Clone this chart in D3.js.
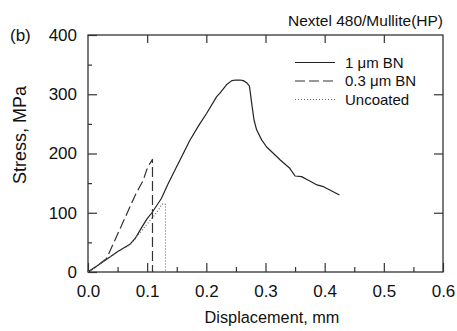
<!DOCTYPE html>
<html><head><meta charset="utf-8">
<script src="https://cdn.jsdelivr.net/npm/d3@7"></script>
<style>
body{margin:0;background:#fff;}
text{font-family:"Liberation Sans",Arial,sans-serif;fill:#111;}
</style></head>
<body><svg id="c" width="457" height="331"></svg>
<script>
const xMajor=[0,0.1,0.2,0.3,0.4,0.5,0.6];
const xMinor=[0.05,0.15,0.25,0.35,0.45,0.55];
const yMajor=[0,100,200,300,400];
const yMinor=[50,150,250,350];
const seriesNames=["1 \u03bcm BN","0.3 \u03bcm BN","Uncoated"];
const bn1=[[0,0],[0.015,10],[0.031,21],[0.051,35],[0.071,47],[0.08,57],[0.09,74],[0.1,90],[0.108,100],[0.124,124],[0.135,148],[0.147,172],[0.16,198],[0.172,222],[0.187,247],[0.2006,268],[0.2175,296],[0.223,302],[0.234,316],[0.243,323],[0.25,324],[0.257,324],[0.2625,323],[0.268,319.5],[0.2727,314],[0.2738,307],[0.2766,285],[0.2806,256.5],[0.285,240],[0.2935,223],[0.302,211],[0.325,189],[0.341,175],[0.35,162],[0.361,161],[0.37,156],[0.378,152],[0.387,147],[0.398,144],[0.425,130]];
const bn03=[[0,0],[0.015,10],[0.0315,23],[0.061,88],[0.08,130],[0.0935,155],[0.099,172],[0.104,182],[0.109,190],[0.109,0]];
const uncoated=[[0,0],[0.015,10],[0.031,21],[0.051,35],[0.07,45],[0.088,66],[0.099,80],[0.11,93],[0.12,106],[0.124,113],[0.128,116],[0.131,114],[0.131,0]];
const titleText="Nextel 480/Mullite(HP)";
const panelLabel="(b)";
const xLabel="Displacement, mm";
const yLabel="Stress, MPa";

const svg=d3.select("#c");
const L=88,T=35,R=443,B=272;
const x=d3.scaleLinear().domain([0,0.6]).range([L,R]);
const y=d3.scaleLinear().domain([0,400]).range([B,T]);
const axCol="#333";

function styleAxis(g){g.select(".domain").remove();g.selectAll("line").attr("stroke",axCol).attr("stroke-width",1.2);}

svg.append("g").attr("transform",`translate(0,${B})`)
 .call(d3.axisBottom(x).tickValues(xMajor).tickSize(-9).tickPadding(13).tickFormat(d3.format(".1f")))
 .call(styleAxis).selectAll("text").attr("font-size",17).attr("fill","#111").style("font-family","Liberation Sans, Arial, sans-serif");
svg.append("g").attr("transform",`translate(0,${B})`)
 .call(d3.axisBottom(x).tickValues(xMinor).tickSize(-5).tickFormat("")).call(styleAxis);
svg.append("g").attr("transform",`translate(0,${T})`)
 .call(d3.axisTop(x).tickValues(xMajor.slice(1,-1)).tickSize(-8).tickFormat("")).call(styleAxis);
svg.append("g").attr("transform",`translate(${L},0)`)
 .call(d3.axisLeft(y).tickValues(yMajor).tickSize(-9).tickPadding(11).tickFormat(d3.format("d")))
 .call(styleAxis).selectAll("text").attr("font-size",17).attr("fill","#111").style("font-family","Liberation Sans, Arial, sans-serif");
svg.append("g").attr("transform",`translate(${L},0)`)
 .call(d3.axisLeft(y).tickValues(yMinor).tickSize(-4).tickFormat("")).call(styleAxis);
svg.append("g").attr("transform",`translate(${R},0)`)
 .call(d3.axisRight(y).tickValues(yMajor.slice(1,-1)).tickSize(-9).tickFormat("")).call(styleAxis);

svg.append("rect").attr("x",L).attr("y",T).attr("width",R-L).attr("height",B-T)
 .attr("fill","none").attr("stroke",axCol).attr("stroke-width",1.3);

const line=d3.line().x(d=>x(d[0])).y(d=>y(d[1]));
const styles=[{dash:null,col:"#222",w:1.2},{dash:"10,4",col:"#333",w:1.2},{dash:"1,2",col:"#666",w:1.1}];
[bn1,bn03,uncoated].forEach((s,i)=>{
 const p=svg.append("path").datum(s).attr("d",line).attr("fill","none")
  .attr("stroke",styles[i].col).attr("stroke-width",styles[i].w).attr("stroke-linejoin","round");
 if(styles[i].dash)p.attr("stroke-dasharray",styles[i].dash);
});

// legend
seriesNames.forEach((n,i)=>{
 const yy=62.5+i*18.5;
 const l=svg.append("line").attr("x1",295).attr("x2",335).attr("y1",yy).attr("y2",yy)
  .attr("stroke",styles[i].col).attr("stroke-width",styles[i].w);
 if(styles[i].dash)l.attr("stroke-dasharray",styles[i].dash);
 svg.append("text").attr("x",345).attr("y",yy+5).attr("font-size",15).text(n);
});

svg.append("text").attr("x",443).attr("y",26).attr("text-anchor","end").attr("font-size",15.5).text(titleText);
svg.append("text").attr("x",10).attr("y",40.5).attr("font-size",17).text(panelLabel);
svg.append("text").attr("x",272).attr("y",323).attr("text-anchor","middle").attr("font-size",16.3).text(xLabel);
svg.append("text").attr("transform","translate(25.5,135) rotate(-90)").attr("text-anchor","middle").attr("font-size",18).text(yLabel);
</script></body></html>
